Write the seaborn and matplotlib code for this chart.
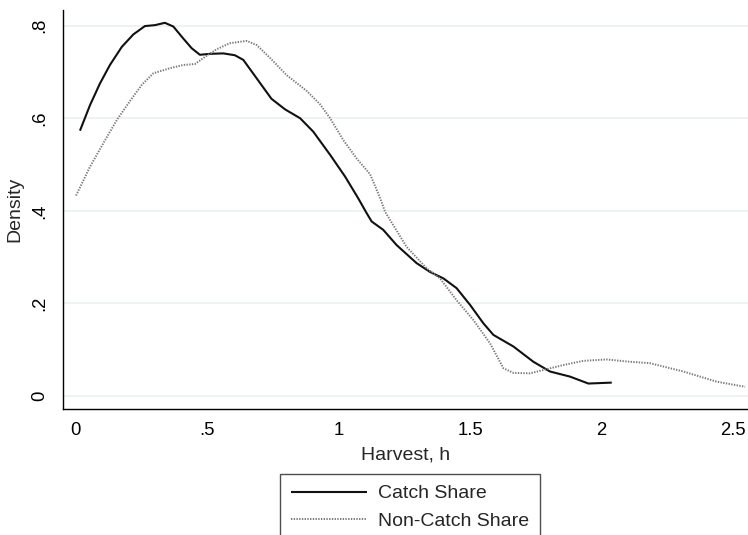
import matplotlib
matplotlib.use("Agg")
import matplotlib.pyplot as plt
import seaborn as sns
import pandas as pd

# Catch Share kernel density
catch_h = [0.017, 0.055, 0.093, 0.131, 0.176, 0.220, 0.264, 0.302, 0.340, 0.372, 0.410,
           0.442, 0.473, 0.511, 0.562, 0.606, 0.638, 0.689, 0.745, 0.797, 0.854, 0.904,
           0.968, 1.025, 1.075, 1.107, 1.126, 1.170, 1.221, 1.297, 1.348, 1.399, 1.449,
           1.500, 1.551, 1.589, 1.665, 1.741, 1.804, 1.880, 1.950, 2.039]
catch_d = [0.573, 0.628, 0.675, 0.715, 0.754, 0.781, 0.799, 0.801, 0.806, 0.798, 0.772,
           0.751, 0.737, 0.739, 0.740, 0.736, 0.726, 0.686, 0.642, 0.619, 0.600, 0.571,
           0.521, 0.474, 0.427, 0.395, 0.377, 0.359, 0.326, 0.287, 0.268, 0.254, 0.233,
           0.197, 0.157, 0.132, 0.107, 0.074, 0.053, 0.042, 0.027, 0.029]

# Non-Catch Share kernel density
noncatch_h = [0.002, 0.055, 0.112, 0.157, 0.207, 0.252, 0.296, 0.359, 0.410, 0.454, 0.499,
              0.537, 0.587, 0.651, 0.689, 0.740, 0.803, 0.879, 0.930, 0.968, 1.018, 1.069,
              1.120, 1.158, 1.177, 1.259, 1.335, 1.386, 1.449, 1.513, 1.576, 1.627, 1.665,
              1.728, 1.792, 1.855, 1.931, 2.020, 2.108, 2.184, 2.311, 2.438, 2.546]
noncatch_d = [0.433, 0.495, 0.552, 0.596, 0.637, 0.672, 0.697, 0.708, 0.715, 0.717, 0.735,
              0.749, 0.762, 0.767, 0.758, 0.730, 0.693, 0.659, 0.630, 0.600, 0.553, 0.513,
              0.479, 0.428, 0.398, 0.322, 0.276, 0.254, 0.207, 0.164, 0.114, 0.060, 0.050,
              0.049, 0.058, 0.067, 0.076, 0.079, 0.074, 0.071, 0.053, 0.031, 0.020]

series_labels = ["Catch Share", "Non-Catch Share"]
x_ticks = [0, 0.5, 1, 1.5, 2, 2.5]
x_ticklabels = ["0", ".5", "1", "1.5", "2", "2.5"]
y_ticks = [0, 0.2, 0.4, 0.6, 0.8]
y_ticklabels = ["0", ".2", ".4", ".6", ".8"]
x_title = "Harvest, h"
y_title = "Density"

sns.set_style("white")
plt.rcParams["font.family"] = ["Liberation Sans", "DejaVu Sans"]

fig = plt.figure(figsize=(7.48, 5.35), dpi=100)
ax = fig.add_axes([63 / 748, 1 - 409 / 535, 1 - 63 / 748, (409 - 10) / 535])

df_c = pd.DataFrame({"h": catch_h, "d": catch_d})
df_n = pd.DataFrame({"h": noncatch_h, "d": noncatch_d})

sns.lineplot(data=df_c, x="h", y="d", ax=ax, color="#111111", linewidth=1.5,
             sort=False, estimator=None, label=series_labels[0],
             solid_joinstyle="round", solid_capstyle="butt")
sns.lineplot(data=df_n, x="h", y="d", ax=ax, color="#7a7a7a", linewidth=1.4,
             linestyle=(0, (0.7, 0.7)), sort=False, estimator=None,
             label=series_labels[1], dash_joinstyle="round")

ax.set_xlim(-0.0475, 2.557)
ax.set_ylim(-0.028, 0.8337)

ax.set_xticks(x_ticks)
ax.set_xticklabels(x_ticklabels)
ax.set_yticks(y_ticks)
ax.set_yticklabels(y_ticklabels, rotation=90, va="center")

ax.tick_params(axis="both", which="both", direction="out", length=5.5, width=1,
               color="#333333", labelsize=13.3, labelcolor="black", pad=4)
ax.tick_params(axis="y", pad=5)

ax.grid(axis="y", color="#eaf1f3", linewidth=1.2)
ax.grid(axis="x", visible=False)
ax.set_axisbelow(True)

for s in ["top", "right"]:
    ax.spines[s].set_visible(False)
for s in ["left", "bottom"]:
    ax.spines[s].set_color("#000000")
    ax.spines[s].set_linewidth(1.0)

ax.set_xlabel(x_title, fontsize=14, labelpad=5)
ax.set_ylabel(y_title, fontsize=14, labelpad=6)

leg = ax.legend(loc="upper center", bbox_to_anchor=(410 / 748, 1 - 474 / 535),
                bbox_transform=fig.transFigure, fontsize=14, frameon=True,
                fancybox=False, handlelength=3.9, handletextpad=0.55,
                borderpad=0.55, labelspacing=0.5, borderaxespad=0)
leg.get_frame().set_edgecolor("#222222")
leg.get_frame().set_linewidth(1.0)

fig.savefig("out.png", dpi=100)
